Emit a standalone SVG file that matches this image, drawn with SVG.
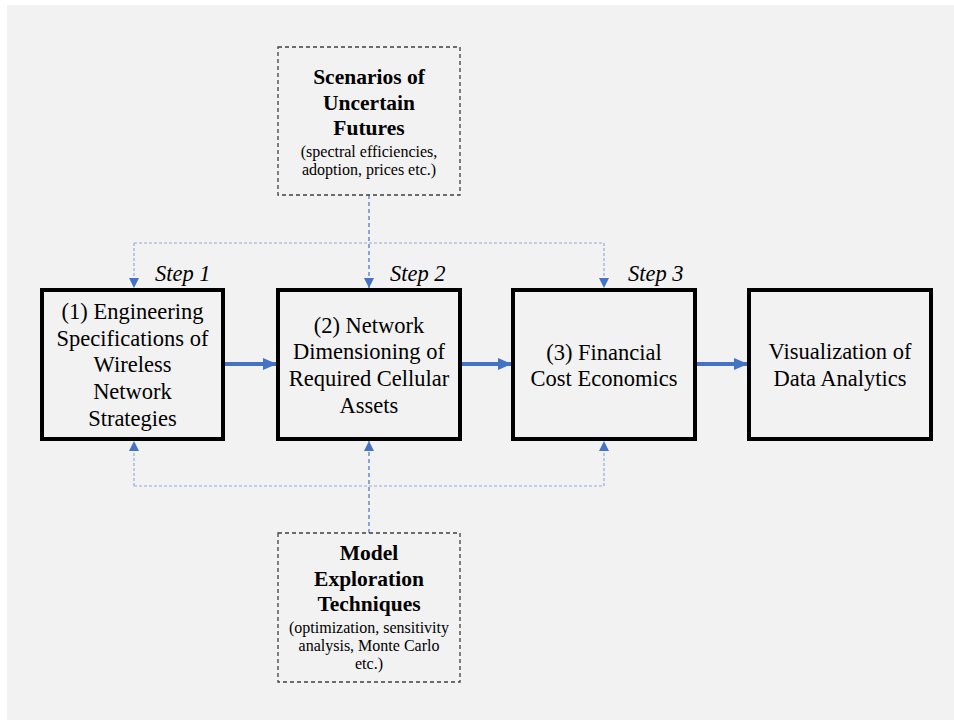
<svg xmlns="http://www.w3.org/2000/svg" width="954" height="720" viewBox="0 0 954 720">
<style>
.bg{fill:#f2f2f2}
.box{fill:#f2f2f2;stroke:#000;stroke-width:4}
.dbox{fill:#f2f2f2;stroke:#404040;stroke-width:1.3;stroke-dasharray:4,3}
.t{font-size:22.5px}
.b{font-size:21.5px;font-weight:bold}
.s{font-size:16px}
.step{font-size:22.5px;font-style:italic;text-anchor:start}
.thick{stroke:#4472c4;stroke-width:4;fill:none}
.dl{stroke:#8faadc;stroke-width:1.2;stroke-dasharray:3,2;fill:none}
.dc{stroke:#4472c4;stroke-width:1.2;stroke-dasharray:4,3;fill:none}
</style>
<defs>
<marker id="big" markerUnits="userSpaceOnUse" markerWidth="14" markerHeight="12" refX="14" refY="6" orient="auto">
<path d="M0,0 L14,6 L0,12 Z" fill="#4472c4"/>
</marker>
<marker id="sm" markerUnits="userSpaceOnUse" markerWidth="10" markerHeight="10" refX="10" refY="5" orient="auto">
<path d="M0,0 L10,5 L0,10 Z" fill="#4472c4"/>
</marker>
</defs>
<rect class="bg" x="7" y="5" width="947" height="715"/>
<g id="connectors">
<path class="thick" d="M224,364 H277" marker-end="url(#big)"/>
<path class="thick" d="M461,364 H512" marker-end="url(#big)"/>
<path class="thick" d="M697,364 H748" marker-end="url(#big)"/>
<path class="dl" d="M134,243 H604"/>
<path class="dl" d="M134,243 V288" marker-end="url(#sm)"/>
<path class="dl" d="M604,243 V288" marker-end="url(#sm)"/>
<path class="dc" d="M369,195 V288" marker-end="url(#sm)"/>
<path class="dl" d="M134,486 H604"/>
<path class="dl" d="M134,486 V441" marker-end="url(#sm)"/>
<path class="dl" d="M604,486 V441" marker-end="url(#sm)"/>
<path class="dc" d="M369,533 V441" marker-end="url(#sm)"/>
</g>
<g font-family="Liberation Serif" fill="#000" text-anchor="middle">
<g id="scenarios">
<rect class="dbox" x="278" y="47" width="182" height="148"/>
<text class="b" x="369" y="84">Scenarios of</text>
<text class="b" x="369" y="110">Uncertain</text>
<text class="b" x="369" y="135">Futures</text>
<text class="s" x="369" y="157">(spectral efficiencies,</text>
<text class="s" x="369" y="175">adoption, prices etc.)</text>
</g>
<g id="explore">
<rect class="dbox" x="278" y="533" width="182" height="149"/>
<text class="b" x="369" y="560">Model</text>
<text class="b" x="369" y="586">Exploration</text>
<text class="b" x="369" y="611">Techniques</text>
<text class="s" x="369" y="633">(optimization, sensitivity</text>
<text class="s" x="369" y="651">analysis, Monte Carlo</text>
<text class="s" x="369" y="669">etc.)</text>
</g>
<g id="step1">
<text class="step" x="155" y="281">Step 1</text>
<rect class="box" x="42" y="290" width="181" height="149"/>
<text class="t" x="132.5" y="319">(1) Engineering</text>
<text class="t" x="132.5" y="346">Specifications of</text>
<text class="t" x="132.5" y="372">Wireless</text>
<text class="t" x="132.5" y="399">Network</text>
<text class="t" x="132.5" y="426">Strategies</text>
</g>
<g id="step2">
<text class="step" x="390" y="281">Step 2</text>
<rect class="box" x="278" y="290" width="182" height="149"/>
<text class="t" x="369" y="333">(2) Network</text>
<text class="t" x="369" y="359">Dimensioning of</text>
<text class="t" x="369" y="386">Required Cellular</text>
<text class="t" x="369" y="413">Assets</text>
</g>
<g id="step3">
<text class="step" x="628" y="281">Step 3</text>
<rect class="box" x="513" y="290" width="182" height="149"/>
<text class="t" x="604" y="360">(3) Financial</text>
<text class="t" x="604" y="386">Cost Economics</text>
</g>
<g id="viz">
<rect class="box" x="749" y="290" width="182" height="149"/>
<text class="t" x="840" y="359">Visualization of</text>
<text class="t" x="840" y="386">Data Analytics</text>
</g>
</g>
</svg>
